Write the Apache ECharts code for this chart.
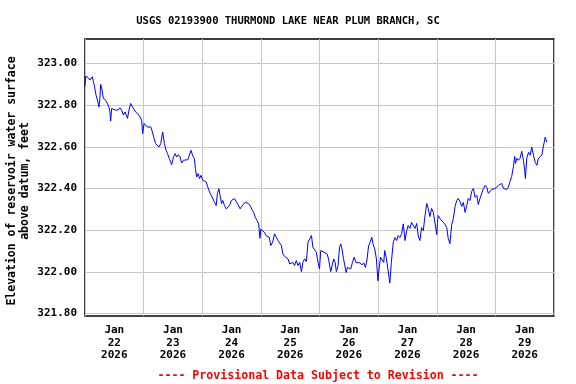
<!DOCTYPE html>
<html>
<head>
<meta charset="utf-8">
<script src="https://cdn.jsdelivr.net/npm/echarts@6/dist/echarts.min.js"></script>
<style>html,body{margin:0;padding:0;background:#fff}#c{width:576px;height:384px}</style>
</head>
<body>
<div id="c"></div>
<script>
// hours since Jan 22 2026 00:00
const hours = [0.0,0.3,0.6,1.3,2.0,3.0,3.4,3.8,4.5,5.1,5.7,6.1,6.4,6.9,7.5,8.0,8.4,9.1,9.8,10.2,10.5,10.9,11.6,12.3,12.9,13.6,14.3,15.0,15.7,16.4,17.0,17.4,18.0,18.7,19.4,20.1,20.7,21.4,22.1,22.8,23.2,23.6,24.2,24.8,25.5,26.2,26.9,27.6,28.3,28.9,29.6,30.3,31.0,31.8,32.5,33.2,33.8,34.5,35.5,36.2,36.9,37.5,38.2,38.9,39.6,40.3,41.1,42.1,42.7,43.4,44.1,44.8,45.2,45.7,46.3,46.9,47.5,48.2,48.9,49.6,50.3,51.0,51.7,52.3,53.0,53.7,54.2,54.8,55.3,55.9,56.4,57.1,57.8,58.5,59.2,59.9,60.5,61.2,61.9,62.6,62.9,63.5,64.2,64.9,65.6,66.3,67.0,67.7,68.3,69.0,69.7,70.4,71.1,71.6,72.0,72.7,73.4,74.1,74.8,75.4,76.1,76.8,77.6,78.3,79.0,79.7,80.4,81.0,81.7,82.4,83.1,83.8,84.5,85.1,85.8,86.5,87.2,87.9,88.6,89.2,89.9,90.6,91.3,92.0,92.7,93.3,94.0,94.7,95.4,96.0,96.5,97.2,97.8,98.5,99.1,99.7,100.2,100.6,101.3,101.8,102.4,102.9,103.6,104.2,104.7,105.2,105.8,106.3,106.9,107.4,108.1,108.8,109.5,110.2,110.9,111.5,112.5,113.4,114.1,114.8,115.5,116.1,116.7,117.4,117.9,118.6,119.3,119.9,120.4,121.0,121.6,122.3,122.7,123.3,124.0,124.8,125.4,126.2,126.9,127.6,128.2,128.9,129.6,130.3,131.0,131.7,132.3,133.0,133.7,134.4,135.1,135.8,136.4,137.1,137.8,138.5,139.2,139.9,140.5,141.2,141.9,142.6,143.3,144.0,144.3,144.6,145.3,146.0,146.7,147.4,148.1,148.7,149.4,150.1,150.8,151.5,152.2,152.8,153.5,154.2,154.9,155.6,156.3,156.9,157.6,158.3,159.0,159.7,160.4,161.0,161.7,162.4,163.1,163.8,164.5,165.1,165.8,166.5,167.2,167.9,168.6,169.3,169.9,170.6,171.3,172.0,172.7,173.3,174.0,174.7,175.4,175.9,176.2,176.8,177.4,178.1,178.8,179.5,180.0,180.3,180.9,181.6,182.2,182.9,183.6,184.3,185.0,185.6,186.3,187.0,187.6,188.0,188.4,189.1];
// reservoir elevation, feet
const levels = [322.891,322.939,322.944,322.931,322.920,322.936,322.912,322.896,322.848,322.824,322.791,322.833,322.899,322.877,322.832,322.840,322.824,322.816,322.791,322.767,322.723,322.784,322.791,322.776,322.784,322.776,322.787,322.776,322.752,322.767,322.776,322.736,322.776,322.808,322.791,322.784,322.767,322.776,322.752,322.743,322.727,322.663,322.712,322.719,322.695,322.703,322.695,322.671,322.639,322.615,322.607,322.599,322.615,322.671,322.615,322.583,322.567,322.543,322.514,322.551,322.567,322.551,322.562,322.551,322.522,322.535,322.540,322.538,322.543,322.583,322.556,322.543,322.495,322.455,322.471,322.447,322.463,322.439,322.447,322.431,322.406,322.382,322.367,322.358,322.334,322.318,322.375,322.399,322.367,322.327,322.342,322.318,322.302,322.299,322.318,322.342,322.334,322.351,322.342,322.323,322.318,322.302,322.315,322.310,322.334,322.342,322.327,322.315,322.299,322.286,322.262,322.246,322.230,322.161,322.206,322.203,322.190,322.174,322.171,322.166,322.126,322.142,322.182,322.166,322.150,322.158,322.126,322.086,322.074,322.070,322.062,322.038,322.030,322.045,322.030,322.054,322.030,322.045,322.001,322.045,322.062,322.049,322.142,322.158,322.174,322.118,322.126,322.094,322.045,322.014,322.102,322.107,322.094,322.102,322.086,322.062,322.054,322.001,322.001,322.062,322.045,322.001,322.030,322.118,322.134,322.110,322.065,322.070,321.997,322.021,322.030,322.014,322.045,322.070,322.045,322.038,322.043,322.033,322.043,322.021,322.062,322.126,322.142,322.166,322.134,322.110,322.062,321.957,322.014,322.070,322.062,322.045,322.102,322.070,322.014,321.946,322.044,322.142,322.164,322.150,322.174,322.164,322.182,322.230,322.150,322.198,322.222,322.208,322.237,322.237,322.208,322.232,322.174,322.150,322.212,322.198,322.270,322.328,322.304,322.265,322.304,322.285,322.294,322.179,322.237,322.270,322.256,322.265,322.237,322.227,322.212,322.160,322.135,322.225,322.256,322.314,322.342,322.352,322.338,322.314,322.333,322.285,322.318,322.352,322.342,322.386,322.400,322.357,322.367,322.323,322.352,322.357,322.400,322.415,322.405,322.376,322.367,322.395,322.391,322.400,322.405,322.415,322.410,322.424,322.400,322.391,322.395,322.406,322.434,322.458,322.506,322.554,322.520,322.545,322.535,322.545,322.578,322.535,322.487,322.448,322.549,322.573,322.559,322.598,322.559,322.525,322.511,322.545,322.554,322.559,322.598,322.607,322.646,322.622];

const yTicks = [321.8, 322.0, 322.2, 322.4, 322.6, 322.8, 323.0];
const dayLines = [0, 24, 48, 72, 96, 120, 144, 168, 192];
const labelHours = [12, 36, 60, 84, 108, 132, 156, 180];
const xLabels = ['Jan\n22\n2026','Jan\n23\n2026','Jan\n24\n2026','Jan\n25\n2026','Jan\n26\n2026','Jan\n27\n2026','Jan\n28\n2026','Jan\n29\n2026'];
const titleText = 'USGS 02193900 THURMOND LAKE NEAR PLUM BRANCH, SC';
const yName = 'Elevation of reservoir water surface\nabove datum, feet';
const footer = '---- Provisional Data Subject to Revision ----';

const FONT = '"DejaVu Sans Mono", "Liberation Mono", monospace';
const chart = echarts.init(document.getElementById('c'), null, {renderer: 'canvas'});
chart.setOption({
  animation: false,
  backgroundColor: '#ffffff',
  title: [
    {text: titleText, left: 'center', top: 11,
     textStyle: {fontFamily: FONT, fontWeight: 'bold', fontSize: 10.5, color: '#000'}},
    {text: footer, left: 313, top: 365, textAlign: 'center',
     textStyle: {fontFamily: FONT, fontWeight: 'bold', fontSize: 11.6, color: '#ff0000'}}
  ],
  graphic: [{
    type: 'text', x: 18.5, y: 181, rotation: Math.PI / 2,
    style: {text: yName, fontFamily: FONT, fontWeight: 'bold', fontSize: 11.5,
      fill: '#000', align: 'center', verticalAlign: 'middle', lineHeight: 13}
  }],
  grid: {left: 85, right: 22, top: 39, bottom: 68, show: true,
    borderColor: '#000', borderWidth: 1.5, backgroundColor: '#fff'},
  xAxis: {
    type: 'value', min: 0, max: 192,
    axisLine: {show: false},
    axisTick: {show: false, customValues: dayLines},
    splitLine: {show: true, lineStyle: {color: '#c8c8c8', width: 1}},
    axisLabel: {customValues: labelHours, margin: 8,
      formatter: v => xLabels[labelHours.indexOf(v)] || '',
      fontFamily: FONT, fontWeight: 'bold', fontSize: 11, color: '#000', lineHeight: 12.5}
  },
  yAxis: {
    type: 'value', min: 321.788, max: 323.117,
    axisLine: {show: false},
    axisTick: {show: false, customValues: yTicks},
    splitLine: {show: true, lineStyle: {color: '#c8c8c8', width: 1}},
    axisLabel: {customValues: yTicks, margin: 8, formatter: v => v.toFixed(2),
      fontFamily: FONT, fontWeight: 'bold', fontSize: 11, color: '#000'}
  },
  series: [{
    type: 'line', data: hours.map((h, i) => [h, levels[i]]),
    showSymbol: false, symbol: 'none',
    lineStyle: {color: '#0000ff', width: 1}, clip: true
  }]
});
</script>
</body>
</html>
